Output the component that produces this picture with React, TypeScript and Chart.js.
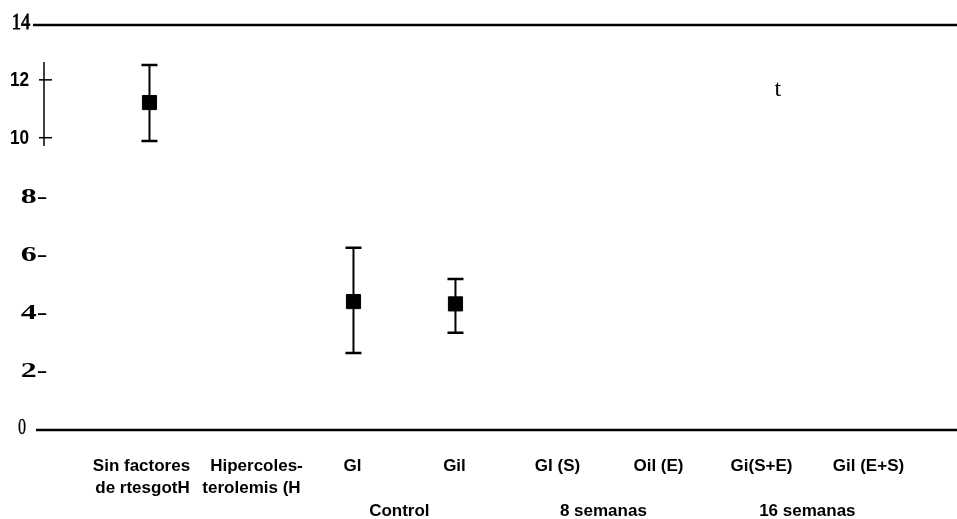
import React, { useEffect, useRef } from 'react';
import { Chart, registerables } from 'chart.js';

Chart.register(...registerables);

// ---- data ----
const catLine1 = ['Sin factores', 'Hipercoles-', 'Gl', 'Gil', 'GI (S)', 'Oil (E)', 'Gi(S+E)', 'Gil (E+S)'];
const catLine2 = ['de rtesgotH', 'terolemis (H', '', '', '', '', '', ''];
const groupLabels = ['Control', '8 semanas', '16 semanas'];
const groupPos = [2.45, 4.45, 6.45];
const pointCat = [0, 2, 3];
const means = [11.32, 4.44, 4.36];
const highs = [12.62, 6.3, 5.22];
const lows = [9.99, 2.66, 3.36];
const yTickValues = [14, 12, 10, 8, 6, 4, 2, 0];
const yTickLabels = ['14', '12', '10', '8-', '6-', '4-', '2-', '0'];
const strayText = 't';
const strayPos = [6.16, 11.75];
const xMin = -1.142;
const xMax = 7.917;

// layout nudges (pixels) for the scanned label placement
const line1Nudge = [-8, 5, -1, -1, 0, -1, 0, 5];
const line2Nudge = [-7, 0];

function drawText(
  ctx: CanvasRenderingContext2D,
  text: string,
  x: number,
  y: number,
  font: string,
  sx = 1,
  sy = 1,
  align: CanvasTextAlign = 'center',
  baseline: CanvasTextBaseline = 'middle',
  stroke = 0
) {
  ctx.save();
  ctx.translate(x, y);
  ctx.scale(sx, sy);
  ctx.font = font;
  ctx.textAlign = align;
  ctx.textBaseline = baseline;
  ctx.fillStyle = '#000';
  ctx.fillText(text, 0, 0);
  if (stroke > 0) {
    ctx.strokeStyle = '#000';
    ctx.lineWidth = stroke;
    ctx.strokeText(text, 0, 0);
  }
  ctx.restore();
}

const decorPlugin = {
  id: 'decor',
  beforeDatasetsDraw(chart: any) {
    const { ctx, chartArea, scales } = chart;
    const xs = scales.x;
    const ys = scales.y;
    ctx.save();
    ctx.strokeStyle = '#000';
    // frame lines at 0 and 14
    ctx.lineWidth = 2.5;
    [0, 14].forEach((v) => {
      const yy = ys.getPixelForValue(v);
      ctx.beginPath();
      ctx.moveTo(chartArea.left + (v === 0 ? 3 : 0), yy);
      ctx.lineTo(chartArea.right, yy);
      ctx.stroke();
    });
    // error bars
    pointCat.forEach((c, i) => {
      const px = xs.getPixelForValue(c);
      const yh = ys.getPixelForValue(highs[i]);
      const yl = ys.getPixelForValue(lows[i]);
      ctx.lineWidth = 2;
      ctx.beginPath();
      ctx.moveTo(px, yh);
      ctx.lineTo(px, yl);
      ctx.stroke();
      ctx.lineWidth = 2.5;
      ctx.beginPath();
      ctx.moveTo(px - 8, yh);
      ctx.lineTo(px + 8, yh);
      ctx.moveTo(px - 8, yl);
      ctx.lineTo(px + 8, yl);
      ctx.stroke();
    });
    // small vertical axis segment with crosses (12, 10)
    const ax = 44;
    ctx.lineWidth = 1.5;
    ctx.beginPath();
    ctx.moveTo(ax, ys.getPixelForValue(12.72));
    ctx.lineTo(ax, ys.getPixelForValue(9.82));
    ctx.stroke();
    [12, 10].forEach((v) => {
      const yy = ys.getPixelForValue(v) - 3;
      ctx.beginPath();
      ctx.moveTo(39, yy);
      ctx.lineTo(52, yy);
      ctx.stroke();
    });
    ctx.restore();
  },
  afterDraw(chart: any) {
    const { ctx, scales } = chart;
    const xs = scales.x;
    const ys = scales.y;
    // y tick labels
    yTickValues.forEach((v, i) => {
      const label = yTickLabels[i];
      const yy = ys.getPixelForValue(v);
      if (v === 14 || v === 0) {
        drawText(ctx, label, v === 14 ? 21 : 22, yy - 2, '23px "Liberation Serif"', v === 14 ? 0.8 : 0.7, 1, 'center', 'middle', v === 14 ? 0.8 : 0.3);
      } else if (v === 12 || v === 10) {
        drawText(ctx, label, 19.5, yy - 3, 'bold 21px "Liberation Sans"', 0.82, 1);
      } else {
        drawText(ctx, label, 34, yy - 1, 'bold 22px "Liberation Serif"', 1.45, 1);
      }
    });
    // x labels
    catLine1.forEach((t, i) => {
      const px = xs.getPixelForValue(i);
      drawText(ctx, t, px + (line1Nudge[i] || 0), 471, 'bold 17px "Liberation Sans"', 1, 1, 'center', 'alphabetic');
      if (catLine2[i]) drawText(ctx, catLine2[i], px + (line2Nudge[i] || 0), 493, 'bold 17px "Liberation Sans"', 1, 1, 'center', 'alphabetic');
    });
    groupLabels.forEach((t, i) => {
      const px = xs.getPixelForValue(groupPos[i]);
      drawText(ctx, t, px, 516, 'bold 17px "Liberation Sans"', 1, 1, 'center', 'alphabetic');
    });
    // stray glyph
    drawText(ctx, strayText, xs.getPixelForValue(strayPos[0]), ys.getPixelForValue(strayPos[1]), '24px "Liberation Serif"');
  },
};

export default function App() {
  const ref = useRef<HTMLCanvasElement | null>(null);
  useEffect(() => {
    if (!ref.current) return;
    const chart = new Chart(ref.current, {
      type: 'scatter',
      data: {
        datasets: [
          {
            data: pointCat.map((c, i) => ({ x: c, y: means[i] })),
            pointStyle: 'rect',
            pointRadius: 10,
            pointBackgroundColor: '#000',
            pointBorderColor: '#000',
            pointBorderWidth: 1,
            showLine: false,
          },
        ],
      },
      options: {
        responsive: false,
        animation: false,
        layout: { autoPadding: false, padding: { left: 33, right: 0, top: 25, bottom: 89 } },
        plugins: { legend: { display: false }, tooltip: { enabled: false } },
        scales: {
          x: { type: 'linear', display: false, min: xMin, max: xMax },
          y: { type: 'linear', display: false, min: 0, max: 14 },
        },
      },
      plugins: [decorPlugin],
    });
    return () => chart.destroy();
  }, []);
  return (
    <div style={{ position: 'fixed', left: 0, top: 0, width: 957, height: 519, background: '#fff' }}>
      <canvas ref={ref} width={957} height={519} style={{ display: 'block' }} />
    </div>
  );
}
